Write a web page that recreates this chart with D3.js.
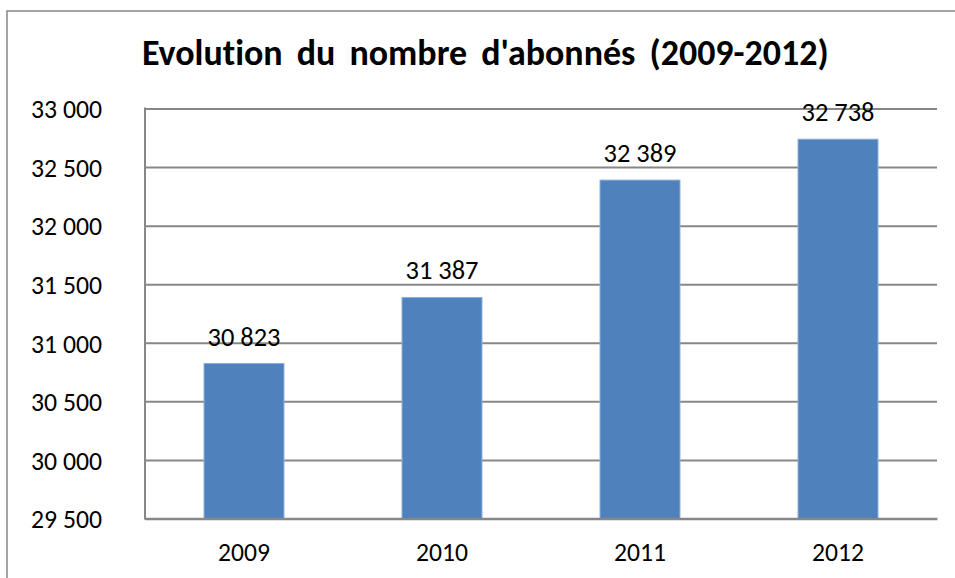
<!DOCTYPE html>
<html><head><meta charset="utf-8">
<script src="https://cdn.jsdelivr.net/npm/d3@7"></script>
<style>html,body{margin:0;padding:0;background:#fff;overflow:hidden} text{font-variant-ligatures:none;font-feature-settings:"liga" 0,"dlig" 0}</style>
</head><body>
<svg id="c" width="955" height="578"></svg>
<script>
const titleText = "Evolution du nombre d'abonnés (2009-2012)";
const categories = ["2009", "2010", "2011", "2012"];
const values = [30823, 31387, 32389, 32738];
const yTicks = [29500, 30000, 30500, 31000, 31500, 32000, 32500, 33000];

const FONT = "Carlito, Calibri, Lato, sans-serif";
const fr = d3.formatLocale({decimal: ",", thousands: "\u00a0", grouping: [3], currency: ["", " €"]});
const fmt = fr.format(",d");

const svg = d3.select("#c");
const m = {left: 145, right: 937, top: 108.5, bottom: 518.5};

// size a font so that a sample string spans a target width
function fitSize(sample, target, weight) {
  const t = svg.append("text").attr("font-family", FONT).attr("font-size", 100)
    .attr("font-weight", weight || "normal").text(sample);
  const w = t.node().getComputedTextLength();
  t.remove();
  return 100 * target / w;
}
const tickSize = fitSize("33\u00a0000", 71);
const xSize = fitSize("2012", 52);
const lblSize = fitSize("30\u00a0823", 73);

// chart border
svg.append("rect").attr("x", 7).attr("y", 11).attr("width", 1000).attr("height", 1000)
  .attr("fill", "#fff").attr("stroke", "#878787").attr("stroke-width", 1.5);

const x = d3.scaleBand().domain(categories).range([m.left, m.right]).paddingInner(0.596).paddingOuter(0.298);
const y = d3.scaleLinear().domain([29500, 33000]).range([m.bottom, m.top]);

// gridlines + y labels
const yAxis = d3.axisLeft(y).tickValues(yTicks).tickSize(-(m.right - m.left)).tickFormat(fmt).tickPadding(43);
const gy = svg.append("g").attr("transform", `translate(${m.left},0)`).call(yAxis);
gy.select(".domain").remove();
gy.selectAll(".tick line").attr("stroke", "#878787").attr("stroke-width", 2);
gy.selectAll(".tick text").attr("font-family", FONT).attr("font-size", tickSize).attr("fill", "#000").attr("dy", "0.36em");

// bars
svg.append("g").selectAll("rect").data(values).join("rect")
  .attr("x", (d, i) => x(categories[i]))
  .attr("y", d => y(d))
  .attr("width", x.bandwidth())
  .attr("height", d => y(29500) - y(d))
  .attr("fill", "#4F81BD")
  .attr("stroke", "#8FB0D9").attr("stroke-width", 1);

// axis lines
svg.append("line").attr("x1", m.left).attr("x2", m.left).attr("y1", m.top - 1).attr("y2", m.bottom + 1)
  .attr("stroke", "#878787").attr("stroke-width", 2);
const xAxis = d3.axisBottom(x).tickSize(0);
const gx = svg.append("g").attr("transform", `translate(0,${m.bottom})`).call(xAxis);
gx.select(".domain").attr("stroke", "#878787").attr("stroke-width", 2.5);
gx.selectAll(".tick text").attr("font-family", FONT).attr("font-size", xSize).attr("fill", "#000")
  .attr("dy", null).attr("y", 42.5);

// data labels
svg.append("g").selectAll("text").data(values).join("text")
  .attr("x", (d, i) => x(categories[i]) + x.bandwidth() / 2)
  .attr("y", d => y(d) - 18)
  .attr("text-anchor", "middle")
  .attr("font-family", FONT).attr("font-size", lblSize).attr("fill", "#000")
  .text(d => fmt(d));

// title: size so that words plus modest extra spacing span the target width
const spaces = (titleText.match(/ /g) || []).length;
const extra = 6, target = 687;
const tSize = fitSize(titleText, target - spaces * extra, "bold");
svg.append("text").attr("x", 142).attr("y", 65)
  .attr("font-family", FONT).attr("font-size", tSize).attr("font-weight", "bold").attr("fill", "#000")
  .attr("word-spacing", extra)
  .text(titleText);
</script>
</body></html>
